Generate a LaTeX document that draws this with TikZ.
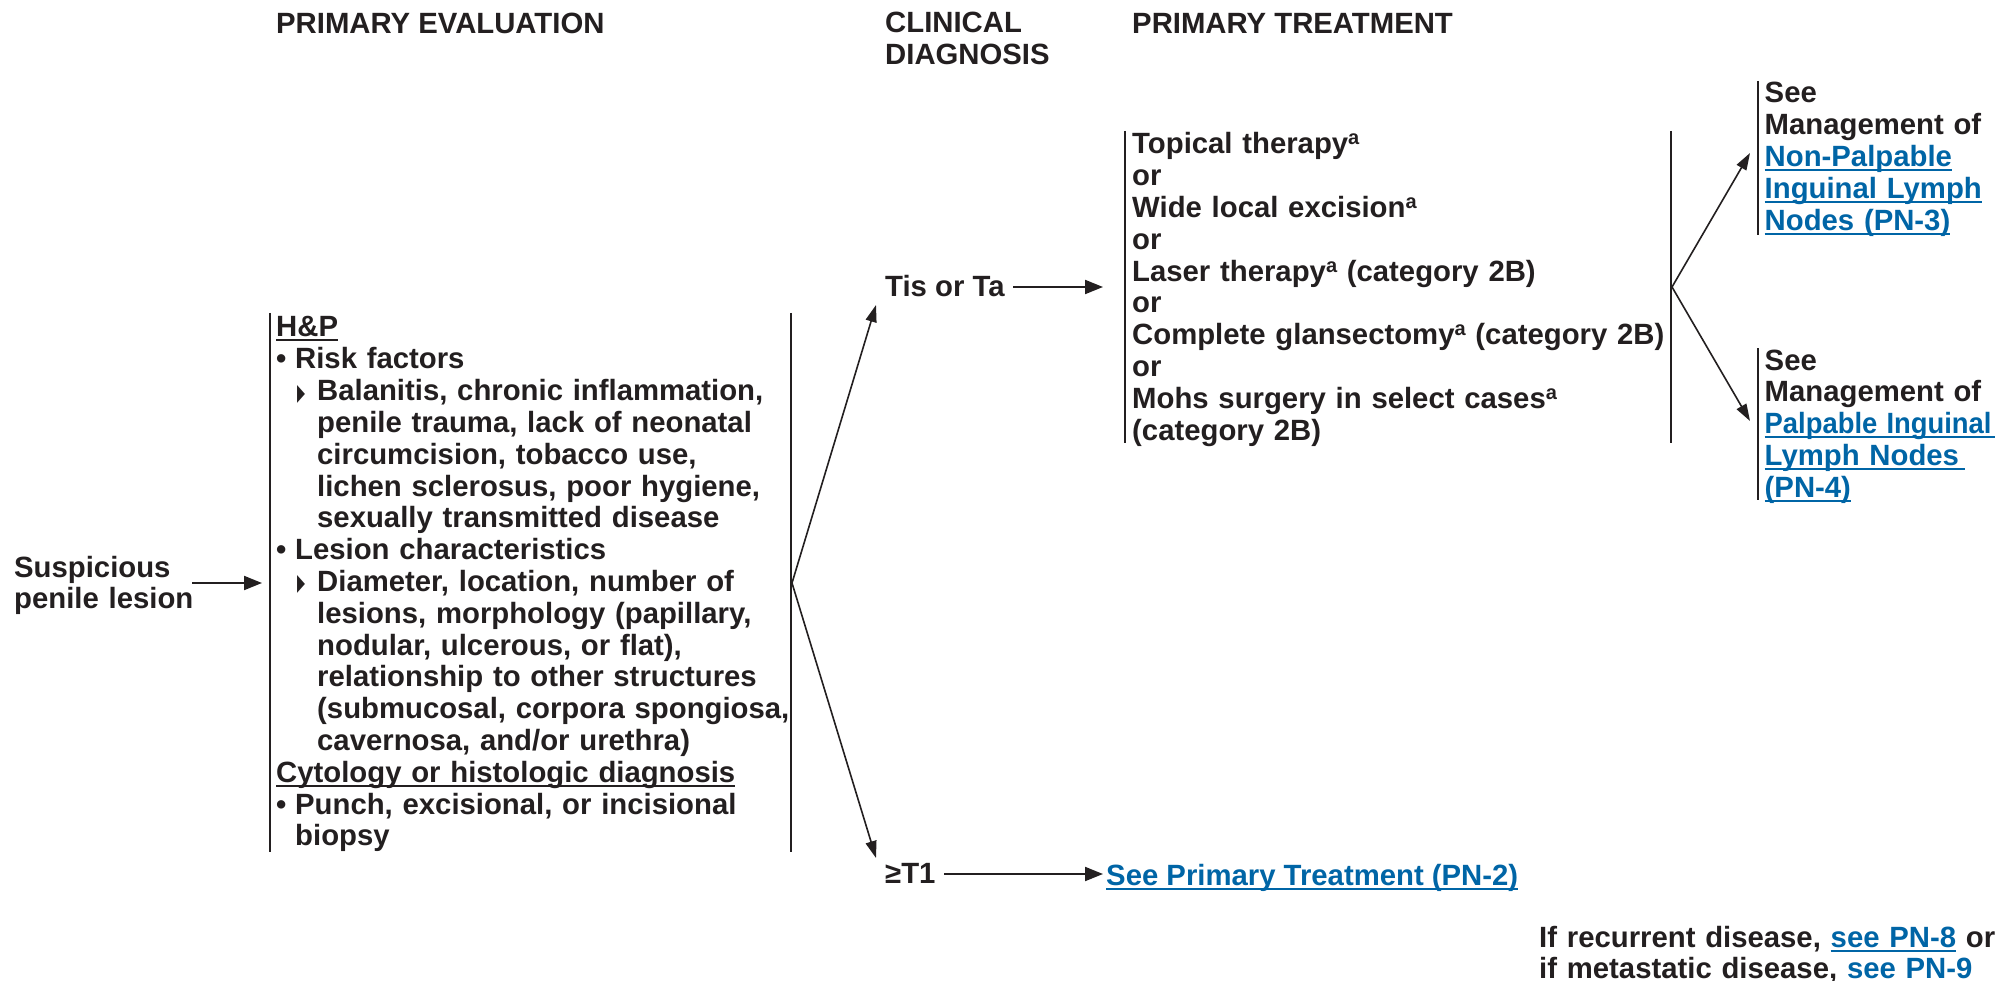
\documentclass[tikz,border=0pt]{standalone}
\usepackage{fontspec}
\usepackage{graphicx}
\setmainfont{Liberation Sans}
\newfontfamily\dejavu{DejaVu Sans}
\usetikzlibrary{arrows.meta}
\definecolor{ink}{RGB}{35,31,32}
\definecolor{link}{RGB}{0,101,166}
\newcommand\ulk[1]{\leavevmode\setbox0\hbox{#1}\rlap{\rule[-4.5pt]{\wd0}{2pt}}\box0}
\newcommand\bul[1]{\par\hangindent=19pt\hangafter=1\leavevmode\makebox[19pt][l]{•}#1\par}
\newcommand\tri[1]{\par\hangindent=41pt\hangafter=1\leavevmode\hspace*{21pt}\makebox[20pt][l]{\raisebox{0.5pt}{\resizebox{8pt}{15pt}{\dejavu ▶}}}#1\par}
\newcommand\supa{\raisebox{9pt}{\fontsize{20pt}{20pt}\selectfont a}}
\tikzset{
  txt/.style={font=\fontsize{29.3pt}{31.8pt}\selectfont\bfseries, text=ink, inner sep=0pt, align=left},
  bar/.style={draw=ink, line width=2pt},
  harrow/.style={draw=ink, line width=2pt, -{Triangle[length=18pt,width=14pt]}},
  darrow/.style={draw=ink, line width=1.6pt, -{Triangle[length=17pt,width=11pt]}}
}
\begin{document}
\begin{tikzpicture}[x=1pt,y=-1pt]
\useasboundingbox[fill=white] (0,0) rectangle (2009,981);

% headers
\node[txt, anchor=base west] (hpe) at (276,34) {PRIMARY EVALUATION};
\node[txt, anchor=base west, text width=250pt] (hcd) at (885,33) {CLINICAL\\DIAGNOSIS};
\node[txt, anchor=base west] (hpt) at (1132,34) {PRIMARY TREATMENT};

% suspicious lesion
\node[txt, anchor=base west, text width=220pt] (susp) at (14,577) {Suspicious\\penile lesion};
\coordinate (suspout) at (192,583);
\coordinate (hpin) at (262,583);

% primary evaluation block
\node[txt, anchor=base west, text width=560pt] (hp) at (276,337) {%
\ulk{H\&P}\par
\bul{Risk factors}
\tri{Balanitis, chronic inflammation,\newline penile trauma, lack of neonatal\newline circumcision, tobacco use,\newline lichen sclerosus, poor hygiene,\newline sexually transmitted disease}
\bul{Lesion characteristics}
\tri{Diameter, location, number of\newline lesions, morphology (papillary,\newline nodular, ulcerous, or flat),\newline relationship to other structures\newline (submucosal, corpora spongiosa,\newline cavernosa, and/or urethra)}
\leavevmode\ulk{Cytology or histologic diagnosis}\par
\bul{Punch, excisional, or incisional\newline biopsy}};
\coordinate (hpL1) at (270,313);
\coordinate (hpL2) at (270,852);
\coordinate (hpR1) at (791,313);
\coordinate (hpR2) at (791,852);
\coordinate (hpout) at (792,583);
\draw[bar] (hpL1) -- (hpL2);
\draw[bar] (hpR1) -- (hpR2);

% clinical diagnosis
\node[txt, anchor=base west] (tis) at (885,297) {Tis or Ta};
\node[txt, anchor=base west] (t1) at (885,883) {≥T1};
\coordinate (tisin) at (876,305);
\coordinate (t1in) at (876,858);
\coordinate (tisout) at (1013,287);
\coordinate (t1out) at (944,874);

% treatment block
\node[txt, anchor=base west, text width=560pt] (tr) at (1132,154) {%
Topical therapy\supa\\
or\\
Wide local excision\supa\\
or\\
Laser therapy\supa{} (category 2B)\\
or\\
Complete glansectomy\supa{} (category 2B)\\
or\\
Mohs surgery in select cases\supa\\
(category 2B)};
\coordinate (trL1) at (1125,131);
\coordinate (trL2) at (1125,443);
\coordinate (trR1) at (1670.5,131);
\coordinate (trR2) at (1670.5,443);
\coordinate (trin) at (1103,287);
\coordinate (trout) at (1672,287);
\draw[bar] (trL1) -- (trL2);
\draw[bar] (trR1) -- (trR2);

% lymph node management
\node[txt, anchor=base west, text width=240pt] (np) at (1764.5,103) {See\\Management of\\\color{link}\ulk{Non-Palpable}\\\ulk{Inguinal Lymph}\\\ulk{Nodes (PN-3)}};
\coordinate (npL1) at (1758,81);
\coordinate (npL2) at (1758,235);
\coordinate (npin) at (1750,153);
\draw[bar] (npL1) -- (npL2);

\node[txt, anchor=base west, text width=240pt] (pp) at (1764.5,370) {See\\Management of\\\color{link}\ulk{\scalebox{0.935}[1]{Palpable Inguinal}\hspace{3pt}}\\\ulk{Lymph Nodes\hspace{6pt}}\\\ulk{(PN-4)}};
\coordinate (ppL1) at (1758,348);
\coordinate (ppL2) at (1758,500);
\coordinate (ppin) at (1750,421);
\draw[bar] (ppL1) -- (ppL2);

% T1 target
\node[txt, anchor=base west, text=link] (pn2) at (1106,885) {\ulk{See Primary Treatment (PN-2)}};
\coordinate (pn2in) at (1103,874);

% footer
\node[txt, anchor=base west, text width=470pt] (foot) at (1539,947) {If recurrent disease, {\color{link}\ulk{see PN-8}} or\\if metastatic disease, {\color{link}\ulk{see PN-9}}};

% connectors
\draw[harrow] (suspout) -- (hpin);
\draw[darrow] (hpout) -- (tisin);
\draw[darrow] (hpout) -- (t1in);
\draw[harrow] (tisout) -- (trin);
\draw[harrow] (t1out) -- (pn2in);
\draw[darrow] (trout) -- (npin);
\draw[darrow] (trout) -- (ppin);
\end{tikzpicture}
\end{document}
